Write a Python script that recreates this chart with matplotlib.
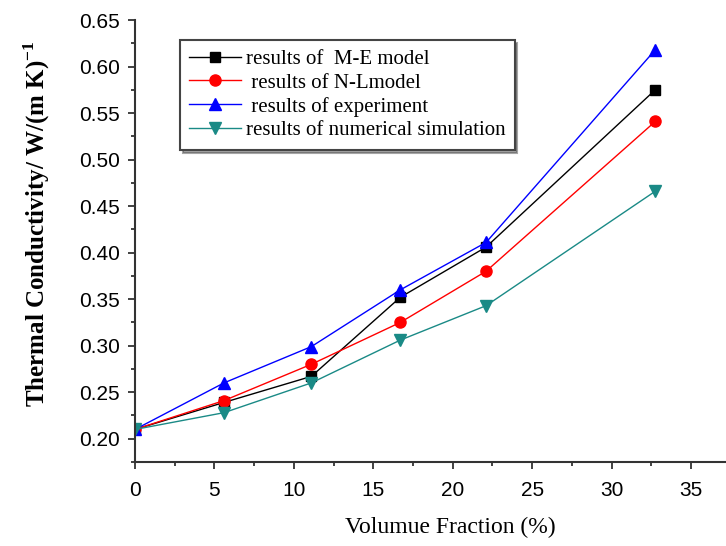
import matplotlib
matplotlib.use("Agg")
import matplotlib.pyplot as plt
from matplotlib.ticker import MultipleLocator, FormatStrFormatter

# volume fraction (%) and thermal conductivity for each method
fraction = [0, 5.6, 11.1, 16.7, 22.1, 32.75]
me_model = [0.210, 0.239, 0.267, 0.352, 0.406, 0.575]
nl_model = [0.210, 0.241, 0.280, 0.325, 0.380, 0.541]
experiment = [0.210, 0.260, 0.299, 0.360, 0.411, 0.618]
simulation = [0.210, 0.228, 0.260, 0.306, 0.343, 0.466]

labels = ["results of  M-E model", " results of N-Lmodel",
          " results of experiment", "results of numerical simulation"]

plt.rcParams['mathtext.fontset'] = 'custom'
plt.rcParams['mathtext.rm'] = 'Liberation Serif'
plt.rcParams['mathtext.bf'] = 'Liberation Serif:bold'

fig = plt.figure(figsize=(7.26, 5.46), dpi=100)
ax = fig.add_axes([135/726, 84/546, 1 - 135/726, 442/546])

ax.plot(fraction, me_model, color='black', lw=1, marker='s', ms=7, label=labels[0])
ax.plot(fraction, nl_model, color='red', lw=1, marker='o', ms=8, label=labels[1])
ax.plot(fraction, experiment, color='blue', lw=1, marker='^', ms=8, label=labels[2])
ax.plot(fraction, simulation, color='#1a8a86', lw=1, marker='v', ms=8, label=labels[3])

ax.set_xlim(0, 37.2)
ax.set_ylim(0.175, 0.65)
ax.xaxis.set_major_locator(MultipleLocator(5))
ax.xaxis.set_minor_locator(MultipleLocator(2.5))
ax.yaxis.set_major_locator(MultipleLocator(0.05))
ax.yaxis.set_minor_locator(MultipleLocator(0.025))
ax.yaxis.set_major_formatter(FormatStrFormatter('%.2f'))

for s in ['top', 'right']:
    ax.spines[s].set_visible(False)
for s in ['left', 'bottom']:
    ax.spines[s].set_linewidth(1.5)
    ax.spines[s].set_color('#333333')
ax.tick_params(which='major', direction='out', length=5, width=1.3, color='#333333',
               labelsize=15)
ax.tick_params(axis='x', which='major', pad=9)
ax.tick_params(axis='y', which='major', pad=6)
ax.tick_params(which='minor', direction='out', length=3, width=1.3, color='#333333')
for t in ax.get_xticklabels() + ax.get_yticklabels():
    t.set_fontfamily('Liberation Sans')

ax.set_xlabel('Volumue Fraction (%)', family='Liberation Serif', fontsize=17)
ax.xaxis.set_label_coords(0.533, -0.125)
ax.set_ylabel(r'Thermal Conductivity/ W/(m K)$^{\mathbf{-1}}$', family='Liberation Serif',
              fontsize=18, fontweight='bold')
ax.yaxis.set_label_coords(-0.14, 0.54)

leg = ax.legend(loc='upper left', bbox_to_anchor=(0.076, 0.955), fancybox=False,
                shadow=True, handlelength=2.5, handletextpad=0.2,
                borderpad=0.45, labelspacing=0.2, borderaxespad=0,
                prop={'family': 'Liberation Serif', 'size': 15})
leg.get_frame().set_edgecolor('#444444')
leg.get_frame().set_linewidth(1.5)

fig.savefig('out.png', dpi=100)
